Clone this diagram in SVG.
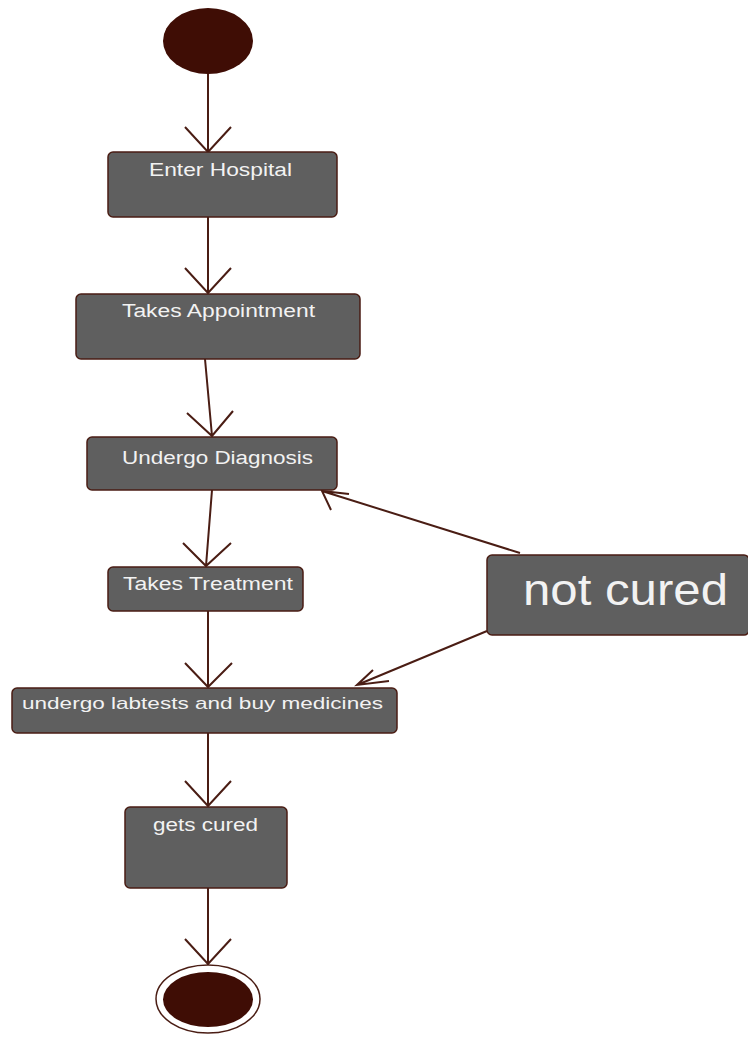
<svg xmlns="http://www.w3.org/2000/svg" width="748" height="1043" viewBox="0 0 748 1043">
<style>
.box{fill:#5f5f5f;stroke:#4a1d14;stroke-width:1.5}
.lbl{fill:#f2f2f2;font-family:"Liberation Sans",Arial,sans-serif;font-size:18px}
.edge{stroke:#4a1d14;stroke-width:2;fill:none}
.dot{fill:#3f0d05}
</style>
<rect width="748" height="1043" fill="#ffffff"/>
<g id="connectors">
<path class="edge" d="M208,74 L208,152 M185,127 L208,152 L231,127"/>
<path class="edge" d="M208,217 L208,293 M185,268 L208,293 L231,268"/>
<path class="edge" d="M205,359 L212,436 M187,413 L212,436 L233,411"/>
<path class="edge" d="M212,490 L206,566 M183,543 L206,566 L231,543"/>
<path class="edge" d="M208,611 L208,687 M185,663 L208,687 L232,663"/>
<path class="edge" d="M208,733 L208,806 M185,781 L208,806 L231,781"/>
<path class="edge" d="M208,888 L208,965 M185,939 L208,964 L231,939"/>
<path class="edge" d="M520,553 L322,491 M349,494 L322,491 L331,510"/>
<path class="edge" d="M487,631 L357,685 M373,670 L357,685 L389,681"/>
</g>
<g id="start"><ellipse class="dot" cx="208" cy="41" rx="45" ry="33"/></g>
<g id="enter-hospital"><rect class="box" x="108" y="152" width="229" height="65" rx="5"/><text class="lbl" x="149" y="176" textLength="143" lengthAdjust="spacingAndGlyphs">Enter Hospital</text></g>
<g id="takes-appointment"><rect class="box" x="76" y="294" width="284" height="65" rx="5"/><text class="lbl" x="122" y="317" textLength="193" lengthAdjust="spacingAndGlyphs">Takes Appointment</text></g>
<g id="undergo-diagnosis"><rect class="box" x="87" y="437" width="250" height="53" rx="5"/><text class="lbl" x="122" y="464" textLength="191" lengthAdjust="spacingAndGlyphs">Undergo Diagnosis</text></g>
<g id="takes-treatment"><rect class="box" x="108" y="567" width="195" height="44" rx="5"/><text class="lbl" x="123" y="590" textLength="170" lengthAdjust="spacingAndGlyphs">Takes Treatment</text></g>
<g id="labtests"><rect class="box" x="12" y="688" width="385" height="45" rx="5"/><text class="lbl" x="22" y="709" style="font-size:17px" textLength="361" lengthAdjust="spacingAndGlyphs">undergo labtests and buy medicines</text></g>
<g id="gets-cured"><rect class="box" x="125" y="807" width="162" height="81" rx="5"/><text class="lbl" x="153" y="831" textLength="105" lengthAdjust="spacingAndGlyphs">gets cured</text></g>
<g id="not-cured"><rect class="box" x="487" y="555" width="262" height="80" rx="5"/><text class="lbl" x="523" y="605" style="font-size:44px" textLength="205" lengthAdjust="spacingAndGlyphs">not cured</text></g>
<g id="end"><ellipse cx="208" cy="999" rx="52" ry="34" fill="#ffffff" stroke="#4a1d14" stroke-width="1.5"/><ellipse class="dot" cx="208" cy="999.5" rx="45" ry="27.5"/></g>
</svg>
